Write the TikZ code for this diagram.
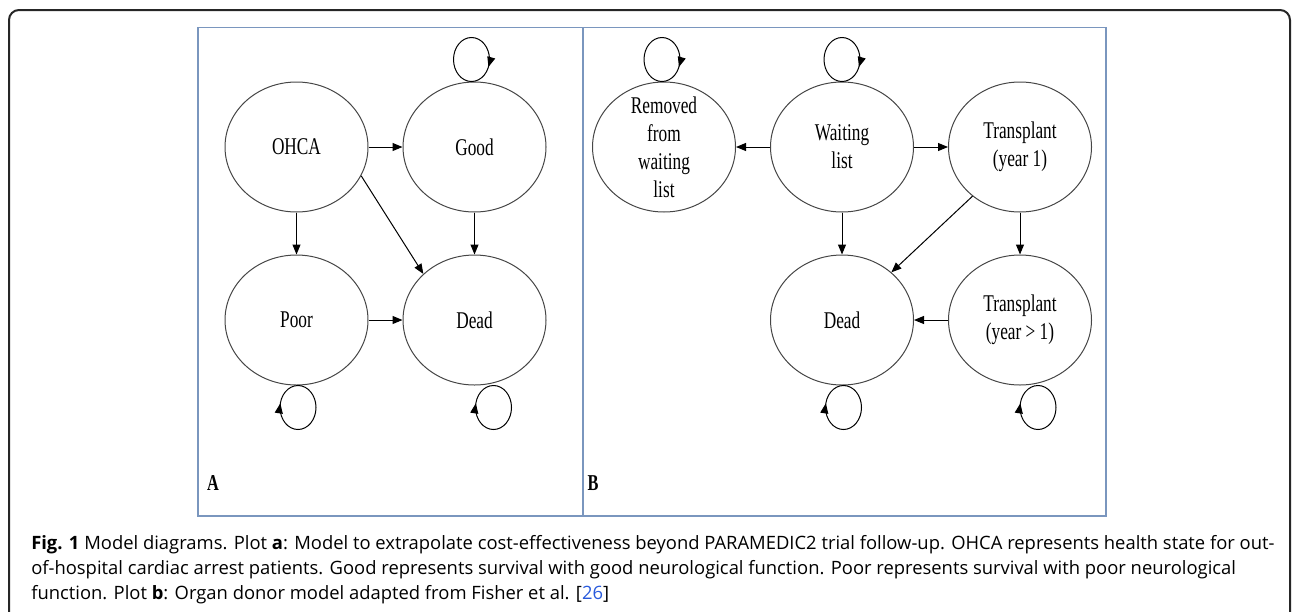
\documentclass[tikz,border=0pt]{standalone}
\usepackage{fontspec}
\setmainfont{Liberation Serif}
\newfontfamily\statefont[FakeStretch=0.72]{Liberation Serif}
\newfontfamily\captionfont{Open Sans}
\usetikzlibrary{
  shapes.geometric,    % ellipse states
  arrows.meta,
  positioning,         % right=of, below=of
  calc,                % loop centres
  decorations.markings,% arrow tip inside the self loops
}
\definecolor{panelblue}{RGB}{122,150,190}
\definecolor{linkblue}{RGB}{40,90,220}
\definecolor{stateline}{RGB}{70,70,70}
\tikzset{
  x=0.75pt,
  y=-0.75pt,
  >={Triangle[length=7.5pt,width=6pt]},
  state/.style={
    ellipse,
    draw=stateline,
    line width=0.75pt,
    minimum width=107.25pt,
    minimum height=97.5pt,
    inner sep=-14pt,
    align=center,
    font=\statefont\fontsize{18}{21}\selectfont
  },
  panel/.style={
    draw=panelblue,
    line width=1.1pt
  },
  panel label/.style={
    font=\statefont\bfseries\fontsize{17}{17}\selectfont
  },
  link/.style={
    ->,
    line width=0.75pt
  },
  self loop/.style={
    line width=0.75pt,
    decoration={markings,mark=at position #1 with {\arrow{>}}},
    postaction={decorate}
  },
  frame/.style={
    draw=black!85,
    line width=1.5pt,
    rounded corners=7.5pt
  }
}

\begin{document}
\begin{tikzpicture}[node distance=31.5pt and 25.5pt]
\useasboundingbox (0,0) rectangle (1292,611);
\clip (0,0) rectangle (1292,611);
\draw[frame] (9,10) rectangle (1290,680);
% the two panels
\draw[panel] (198,27.5) rectangle (583,516);
\draw[panel] (583,27.5) rectangle (1106,516);
\node[panel label] (labA) at (213,483) {A};
\node[panel label] (labB) at (593,483) {B};
% model A
\node[state] (ohca)  at (296.5,147)   {OHCA};
\node[state] (good)  [right=of ohca] {Good};
\node[state] (poor)  [below=of ohca] {Poor};
\node[state] (deadA) [below=of good] {Dead};
\path[link] (ohca)     edge (good)
            (ohca)     edge (poor)
            (good)     edge (deadA)
            (poor)     edge (deadA)
            (ohca.-24) edge (deadA.138);
\draw[self loop=0.06]  ($(good.north)+(-3,-22)$)  ellipse [x radius=18,y radius=22];
\draw[self loop=0.533] ($(poor.south)+(1.5,22)$)  ellipse [x radius=18,y radius=22];
\draw[self loop=0.533] ($(deadA.south)+(19,22)$)  ellipse [x radius=18,y radius=22];
% model B
\node[state] (wait)    at (842,147)        {Waiting\\list};
\node[state] (removed) [left=of wait]     {Removed\\from\\waiting\\list};
\node[state] (trans)   [right=of wait]    {Transplant\\(year 1)};
\node[state] (deadB)   [below=of wait]    {Dead};
\node[state] (transB)  [below=of trans]   {Transplant\\(year > 1)};
\path[link] (wait)       edge (removed)
            (wait)       edge (trans)
            (wait)       edge (deadB)
            (trans)      edge (transB)
            (transB)     edge (deadB)
            (trans.226)  edge (deadB.44);
\draw[self loop=0.06]  ($(removed.north)+(-2,-22)$) ellipse [x radius=18,y radius=22];
\draw[self loop=0.06]  ($(wait.north)+(0,-22)$)     ellipse [x radius=18,y radius=22];
\draw[self loop=0.533] ($(deadB.south)+(1.5,22)$)   ellipse [x radius=18,y radius=22];
\draw[self loop=0.533] ($(transB.south)+(18,22)$)   ellipse [x radius=18,y radius=22];
% caption
\node[anchor=north west,inner sep=0pt,align=left,
      font=\captionfont\fontsize{13.8}{18.75}\selectfont] (caption) at (31,535)
  {\textbf{Fig. 1} Model diagrams. Plot \textbf{a}: Model to extrapolate cost-effectiveness beyond PARAMEDIC2 trial follow-up. OHCA represents health state for out-\\
   of-hospital cardiac arrest patients. Good represents survival with good neurological function. Poor represents survival with poor neurological\\
   function. Plot \textbf{b}: Organ donor model adapted from Fisher et al. [\textcolor{linkblue}{26}]};
\end{tikzpicture}
\end{document}
